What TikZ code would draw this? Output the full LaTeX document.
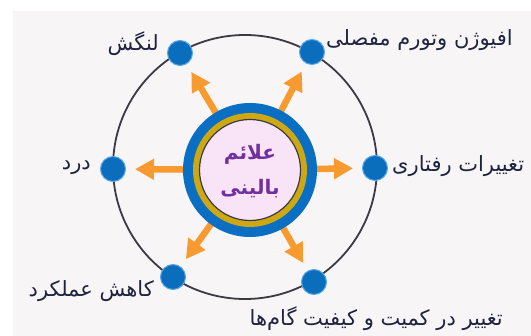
\documentclass[tikz,border=0pt]{standalone}
\usepackage{fontspec}
\usetikzlibrary{arrows.meta,calc}
\newfontfamily\arabicfont[Script=Arabic]{DejaVu Sans}
\TeXXeTstate=1
\definecolor{panelbg}{HTML}{F8F5F6}
\definecolor{ringblue}{HTML}{0A6FC2}
\definecolor{ringgold}{HTML}{CDA812}
\definecolor{innerpink}{HTML}{F9E4F7}
\definecolor{darkline}{HTML}{3A3A45}
\definecolor{arroworange}{HTML}{F79B30}
\definecolor{dotblue}{HTML}{0A6EBD}
\definecolor{dothalo}{HTML}{5AA8E6}
\definecolor{labeltext}{HTML}{1E2340}
\definecolor{centertext}{HTML}{7030A0}
\tikzset{
  orbit/.style={draw=darkline, line width=1.8pt},
  ray/.style={draw=arroworange, line width=6.5pt, -{Triangle[length=19pt,width=20pt]}},
  dotnode/.style={circle, fill=dotblue, draw=dothalo, line width=1pt, minimum size=25pt, inner sep=0pt},
  lbl/.style={font=\arabicfont\fontsize{21}{24}\selectfont, text=labeltext, inner sep=0pt},
  ctext/.style={font=\arabicfont\bfseries\fontsize{20}{23}\selectfont, text=centertext, inner sep=0pt}
}
\begin{document}
\begin{tikzpicture}[x=1pt,y=-1pt]
\useasboundingbox (0,0) rectangle (531,336);
\fill[white] (0,0) rectangle (531,336);
\fill[panelbg] (13,11) rectangle (531,336);
% big circle
\coordinate (BC) at (245,167);
\draw[orbit] (BC) circle[radius=132];
% inner center
\coordinate (IC) at (250,170);
% dots
\node[dotnode] (d1) at (180,53) {};
\node[dotnode] (d2) at (312,52) {};
\node[dotnode] (d3) at (113,169) {};
\node[dotnode] (d4) at (375,168) {};
\node[dotnode] (d5) at (173,277) {};
\node[dotnode] (d6) at (314,282) {};
% arrows
\foreach \d in {d1,d2,d3,d4,d5,d6}{
  \draw[ray] ($(IC)!55pt!(\d)$) -- ($(\d)!22pt!(IC)$);
}
% inner rings
\fill[ringblue] (IC) circle[radius=67];
\fill[ringgold] (IC) circle[radius=57];
\draw[darkline, line width=1.2pt, fill=innerpink] (IC) circle[radius=50.5];
\node[ctext] (c1) at (250,154) {\beginR علائم\endR};
\node[ctext] (c2) at (250,189) {\beginR بالینی\endR};
% labels
\node[lbl, anchor=east] (l1) at (159,44) {\beginR لنگش\endR};
\node[lbl, anchor=west] (l2) at (326,40) {\beginR افیوژن وتورم مفصلی\endR};
\node[lbl, anchor=east] (l3) at (91,168) {\beginR درد\endR};
\node[lbl, anchor=west] (l4) at (392,166) {\beginR تغییرات رفتاری\endR};
\node[lbl, anchor=east] (l5) at (154,291) {\beginR کاهش عملکرد\endR};
\node[lbl, anchor=east] (l6) at (503,319) {\beginR تغییر در کمیت و کیفیت گام‌ها\endR};
\end{tikzpicture}
\end{document}
